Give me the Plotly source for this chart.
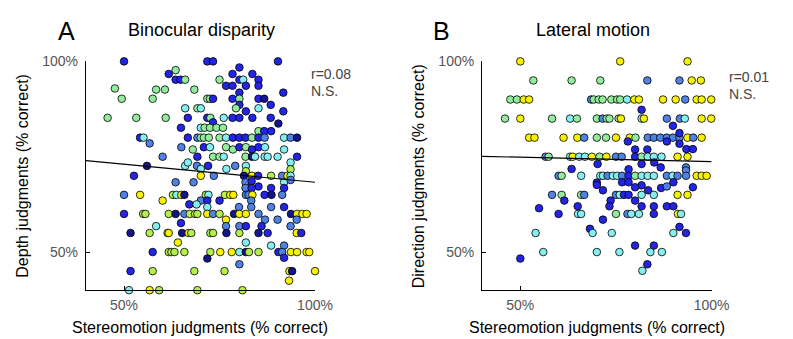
import plotly.graph_objects as go

# ---------------- data ----------------
# colour classes: N navy, B blue, M medium blue, C cyan, G mint green, L lime, Y yellow
a_x = [50.0, 71.8, 73.3, 90.3, 63.5, 80.2, 61.7, 78.4, 83.6, 63.5, 64.8, 66.0, 75.0, 80.2, 81.2, 85.2,
       76.7, 78.4, 81.9, 85.2, 47.6, 58.4, 60.7, 68.4, 80.2, 91.7, 49.4, 57.5, 71.8, 72.5, 73.3, 78.4,
       80.2, 85.2, 86.7, 80.2, 88.4, 66.0, 69.2, 70.1, 79.3, 85.2, 81.9, 91.7, 45.7, 53.2, 60.9, 66.7,
       71.8, 72.6, 76.1, 78.4, 80.2, 83.6, 88.4, 90.4, 73.3,
       64.9, 70.1, 71.1, 72.5, 74.2, 75.9, 85.2, 86.7, 88.5,
       54.2, 55.1, 66.7, 69.2, 70.1, 70.9, 72.2, 75.0, 76.7, 78.5, 80.2, 81.8, 83.5, 85.2, 86.8, 91.9,
       93.6, 95.3, 56.7,
       65.0, 68.0, 70.9, 72.5, 76.7, 78.5, 80.2, 81.9, 83.5, 85.2, 86.9, 91.9,
       60.1, 69.2, 73.3, 75.0, 76.1, 81.8, 83.5, 84.3, 86.8, 87.6, 90.2, 93.6, 95.3,
       56.0, 66.0, 66.7, 69.1, 70.1, 72.0, 76.8, 79.1, 81.9, 81.9, 93.6,
       52.6, 70.1, 73.5, 81.4, 83.5, 85.1, 88.5, 91.4, 92.8, 93.6,
       63.5, 68.2, 81.8, 83.4, 85.2, 91.9, 93.6,
       81.8, 83.4, 88.5, 91.9,
       50.0, 54.2, 62.8, 63.7, 65.0, 65.8, 71.4, 72.1, 76.4, 77.8, 78.6, 81.9, 82.6, 83.6, 86.8, 88.6, 91.4,
       60.1, 70.1, 71.8, 75.0, 83.3,
       67.1, 69.0, 71.8, 80.1, 83.3, 88.5, 91.9,
       50.0, 55.0, 55.6, 61.7, 63.5, 65.8, 67.2, 68.6, 69.2, 71.8, 73.3, 75.0, 78.8, 80.2, 81.9, 85.2,
       93.7, 95.3, 96.7, 97.8,
       76.7, 86.9, 90.2, 95.2, 64.9,
       58.4, 76.7, 80.2, 81.9, 86.0, 93.6,
       51.7, 56.7, 61.4, 61.7, 65.2, 66.9, 67.6, 72.6, 73.3, 76.8, 80.2, 85.2, 87.6, 95.2, 96.4,
       64.1, 81.9, 88.5, 91.9,
       57.5, 61.7, 62.4, 63.2, 65.8, 72.6, 75.2, 78.2, 80.2, 81.9, 82.7, 85.2, 90.4, 91.4, 93.7, 95.3,
       97.8, 98.5, 71.8, 91.9, 80.2,
       51.7, 57.5, 68.4, 76.3, 93.3, 94.0, 100.0, 93.2,
       51.3, 56.7, 59.2, 69.2, 81.0]
a_y = [100, 100, 100, 100, 97.7, 98.4, 96.7, 96.7, 96.7, 95.2, 95.2, 95.2, 95.2, 95.2, 95.2, 95.2,
       93.6, 93.6, 93.6, 93.6, 92.9, 92.6, 92.6, 92.6, 91.8, 91.8, 90.2, 90.2, 90.2, 90.2, 90.2, 90.2,
       90.2, 90.2, 90.2, 88.6, 88.6, 87.7, 87.7, 87.7, 87.7, 87.7, 86.9, 86.9, 85.2, 85.2, 85.2, 85.2,
       85.2, 85.2, 85.2, 85.2, 85.2, 85.2, 85.2, 83.7, 84.0,
       82.6, 82.6, 82.6, 82.6, 82.6, 82.6, 81.7, 81.7, 81.7,
       80, 80, 80, 80, 80, 80, 80, 80, 80, 80, 80, 80, 80, 80, 80, 80,
       80, 80, 78.5,
       77.5, 76.9, 77.5, 77.5, 77.5, 76.9, 77.5, 77.5, 76.9, 77.5, 77.5, 76.9,
       75, 75, 75, 75, 75, 75, 75, 75, 75, 75, 75, 73.5, 75,
       72.6, 72.6, 73.5, 72.6, 71.8, 72.6, 71.8, 72.6, 72.6, 71.2, 71.7,
       70, 70, 70, 70, 70, 70, 70, 70, 70, 70,
       68.3, 68.3, 68.3, 68.6, 67.2, 68.3, 68.9,
       66.8, 66.8, 66.8, 66.8,
       65, 65, 65, 65, 65, 65, 65, 65, 65, 65, 65, 65, 65, 65, 65, 65, 65,
       63.5, 63.5, 63.5, 63.5, 63.5,
       62.5, 62.5, 61.8, 61.8, 61.8, 61.8, 61.8,
       60, 60, 60, 60, 60, 60, 60, 60, 60, 60, 60, 60, 60, 60, 60, 60,
       60, 60, 60, 60,
       58.5, 58.5, 58.5, 58.5, 57.6,
       56.8, 56.8, 56.8, 56.8, 56.8, 56.8,
       55, 55, 55, 55, 55, 55, 55, 55, 55, 55, 55, 55, 55, 55, 55,
       52.5, 52.5, 51.7, 51.7,
       50, 50, 50, 50, 50, 50, 50, 50, 50, 50, 50, 50, 50, 50, 50, 50,
       50, 50, 48.3, 48.5, 46.8,
       45, 45, 45, 45, 45, 45, 45, 42.5,
       40, 40, 40, 40, 40]
a_c = list("BBBBGBBBBBBGGBCB" "BBBBGGGGBBGGGGBB" "GBNBBCGCGCBBGGGB" "BGCBBBBNBB"
           "CGGGGGBBB"
           "CBMGGGGCBBBGBMCM" "NMM"
           "GBCGGBGBBCCM"
           "BGGCGNCCCCCBN"
           "CCMCBCMCLLB"
           "YMNYBLMYCM"
           "MMBBCMM"
           "BBBM"
           "YLCYNLCLYYMMYBNMY"
           "MBBMB"
           "CCMMMBB"
           "LLLNMLLLYMLNYYMN" "YYYY"
           "MMMBC"
           "MMBBMN"
           "LLYNYLLLNLNBYBY"
           "CCMB"
           "LLLLLYYCNLLBMYYY" "YNBMB"
           "LLLYNYYC"
           "YLLLL")

b_x = [50.0, 76.1, 93.7,
       53.4, 63.4, 70.9, 83.2, 91.6, 94.8, 97.2,
       47.4, 49.1, 50.9, 52.3, 68.5, 69.2, 70.5, 71.5, 73.8, 75.3, 76.1, 77.9, 79.8, 81.0, 87.3, 90.6,
       93.1, 96.1, 97.4, 99.9, 81.7,
       46.0, 50.0, 58.3, 63.0, 64.8, 70.0, 71.5, 72.6, 73.3, 75.7, 76.3, 81.7, 82.3, 88.3, 91.7, 93.0,
       97.4, 99.9, 89.9,
       52.3, 53.7, 61.3, 64.9, 66.7, 70.0, 72.4, 75.0, 78.6, 80.1, 83.3, 84.9, 86.6, 88.3, 89.9, 91.6,
       93.7, 95.2, 97.4,
       91.6, 78.1, 88.3, 91.6, 80.0, 83.2, 93.4, 95.1,
       56.6, 57.4, 63.0, 63.7, 65.4, 66.9, 68.7, 70.7, 72.5, 75.0, 76.5, 80.0, 81.7, 83.3, 84.9, 86.9,
       91.1, 93.7,
       70.2, 63.4, 78.3, 81.7, 85.0, 86.7, 93.3, 93.3,
       60.0, 60.8, 65.9, 70.9, 71.6, 72.8, 74.2, 75.3, 76.6, 78.3, 80.0, 81.7, 83.3, 84.9, 88.3, 89.8,
       91.1, 93.3, 96.1, 97.4, 98.7,
       70.0, 70.0, 76.6, 78.3, 81.7, 90.0, 71.6, 80.0, 83.4, 86.8, 88.3, 95.1, 73.6,
       58.3, 60.8, 65.9, 66.7, 75.0, 76.0, 77.1, 78.3, 81.7, 84.9, 91.1, 93.7,
       80.0, 61.5,
       54.9, 65.0, 73.3, 81.7, 84.9, 88.3, 90.0,
       60.0, 65.1, 65.9, 75.0, 78.0, 79.0, 81.0, 84.9, 91.2, 92.0,
       71.6, 68.2, 91.6,
       54.0, 68.9, 73.9, 90.0, 93.3,
       80.0, 84.9,
       56.0, 70.0, 75.9, 84.0, 87.0,
       50.0, 83.2, 81.9]
b_y = [100, 100, 100,
       95, 95, 95, 95, 95, 95, 95,
       90, 90, 90, 90, 90, 90, 90, 90, 90, 90, 90, 90, 90, 90, 90, 90,
       90, 90, 90, 90, 87.3,
       85, 85, 85, 85, 85, 85, 85, 85, 85, 85, 85, 85, 85, 85, 85, 85,
       85, 85, 83.1,
       80, 80, 80, 80, 80, 80, 80, 80, 80, 80, 80, 80, 80, 80, 80, 80,
       80, 80, 80,
       81.2, 79.0, 79.0, 78.4, 76.9, 76.9, 77.0, 77.0,
       75, 75, 75, 75, 75, 75, 75, 75, 75, 75, 75, 75, 75, 75, 75, 75,
       75, 75,
       73.1, 71.8, 71.7, 73.1, 73.5, 72.2, 72.2, 71.4,
       70, 70, 70, 70, 70, 70, 70, 70, 70, 70, 70, 70, 70, 70, 70, 70,
       70, 70, 70, 70, 70,
       68.2, 67.6, 68.3, 68.3, 67.5, 68.3, 66.2, 67.0, 66.2, 66.8, 67.2, 67.0, 63.5,
       65, 65, 65, 65, 65, 65, 65, 65, 65, 65, 65, 65,
       63.5, 63.5,
       61.5, 62.0, 62.0, 62.0, 62.0, 62.0, 62.0,
       60, 60, 60, 60, 60, 60, 60, 60, 60, 60,
       58.5, 56.1, 56.6,
       55, 55, 55, 55, 55,
       51.7, 51.7,
       50, 50, 50, 50, 50,
       48.3, 46.8, 45.1]
b_c = list("YYY"
           "GGGMMYY"
           "GGYYMGGGGGGCYYYYMYYY" "B"
           "GYGCGGMGGGYCYMMCYY" "B"
           "YYYYMGGYYGMMMMMMYMY"
           "BBBBBBBB"
           "MGCYCCYGYMMBGCCCYY"
           "BBBBBBMM"
           "MGCCCMCCMBGCCCMCMMYYY"
           "BBBBBBBBBBMBB"
           "MGGMMCBBCCYY"
           "BB"
           "BBBBBBB"
           "BCCGMCCBYC"
           "BBB"
           "CCCCB"
           "BB"
           "CCCCC"
           "BBC")

fit_x = [40, 100]
fit_a_y = [74.0, 68.3]
fit_b_y = [75.1, 73.7]
r_a, r_b = "r=0.08", "r=0.01"
tick_vals = [50, 100]
tick_text = ["50%", "100%"]

palette = {"N": "#14148c", "B": "#2424e6", "M": "#4f82e3", "C": "#84eef0",
           "G": "#92ec9c", "L": "#b4ee4c", "Y": "#f6f200"}

# ---------------- layout helpers ----------------
# The page keeps the browser's default 8px body margin; the figure starts at
# (8, 8) and reaches the bottom edge of the 793x339 window.
PAGE_W, PAGE_H, PAD = 793, 339, 8
W, H = PAGE_W - 2 * PAD, PAGE_H - PAD
def fx(px):
    return (px - PAD) / W
def fy(py):
    return 1 - (py - PAD) / H

FONT = "Liberation Sans, Arial, sans-serif"

fig = go.Figure()
for xs, ys, cs, xa, ya in [(a_x, a_y, a_c, "x", "y"), (b_x, b_y, b_c, "x2", "y2")]:
    fig.add_trace(go.Scatter(
        x=xs, y=ys, mode="markers", xaxis=xa, yaxis=ya, cliponaxis=False,
        marker=dict(size=7.6, color=[palette[c] for c in cs],
                    line=dict(color="black", width=0.8)),
        showlegend=False, hoverinfo="skip"))
fig.add_trace(go.Scatter(x=fit_x, y=fit_a_y, mode="lines", xaxis="x", yaxis="y",
                         line=dict(color="black", width=1.2), showlegend=False, hoverinfo="skip"))
fig.add_trace(go.Scatter(x=fit_x, y=fit_b_y, mode="lines", xaxis="x2", yaxis="y2",
                         line=dict(color="black", width=1.2), showlegend=False, hoverinfo="skip"))

axis_common = dict(range=[40, 100], tickvals=tick_vals, ticktext=tick_text,
                   ticks="inside", ticklen=4, tickcolor="black", tickwidth=1,
                   showline=True, linecolor="black", linewidth=1.2,
                   showgrid=False, zeroline=False,
                   tickfont=dict(family=FONT, size=14, color="#555555"))
ydom = [fy(289), fy(54.5)]
fig.update_layout(
    width=W, height=H, autosize=False, margin=dict(l=0, r=0, t=0, b=0),
    paper_bgcolor="white", plot_bgcolor="white",
    xaxis=dict(domain=[fx(87.7), fx(322.3)], anchor="y", ticklabelstandoff=2, **axis_common),
    yaxis=dict(domain=ydom, anchor="x", ticklabelstandoff=4, **axis_common),
    xaxis2=dict(domain=[fx(493.3), fx(728.3)], anchor="y2", ticklabelstandoff=2, **axis_common),
    yaxis2=dict(domain=ydom, anchor="x2", ticklabelstandoff=4, **axis_common),
)

def txt(s, px, py, size, color="black", xanchor="center", angle=0, yanchor="middle"):
    fig.add_annotation(text=s, x=fx(px), y=fy(py), xref="paper", yref="paper",
                       showarrow=False, xanchor=xanchor, yanchor=yanchor,
                       textangle=angle, font=dict(family=FONT, size=size, color=color))

txt("A", 68, 23, 25)
txt("Binocular disparity", 206, 22, 18)
txt("B", 452, 23, 25)
txt("Lateral motion", 607, 22, 18)
txt(r_a, 316, 67, 14, "#444444", "left")
txt("N.S.", 316, 85, 14, "#444444", "left")
txt(r_b, 744, 70, 14, "#444444", "left")
txt("N.S.", 744, 88, 14, "#444444", "left")
txt("Depth judgments (% correct)", 22, 172, 16, angle=-90)
txt("Direction judgments (% correct)", 428, 172, 16, angle=-90)
txt("Stereomotion judgments (% correct)", 205, 327, 16)
txt("Stereomotion judgments (% correct)", 611, 327, 16)

fig.write_html("out.html", config={"displayModeBar": False})
